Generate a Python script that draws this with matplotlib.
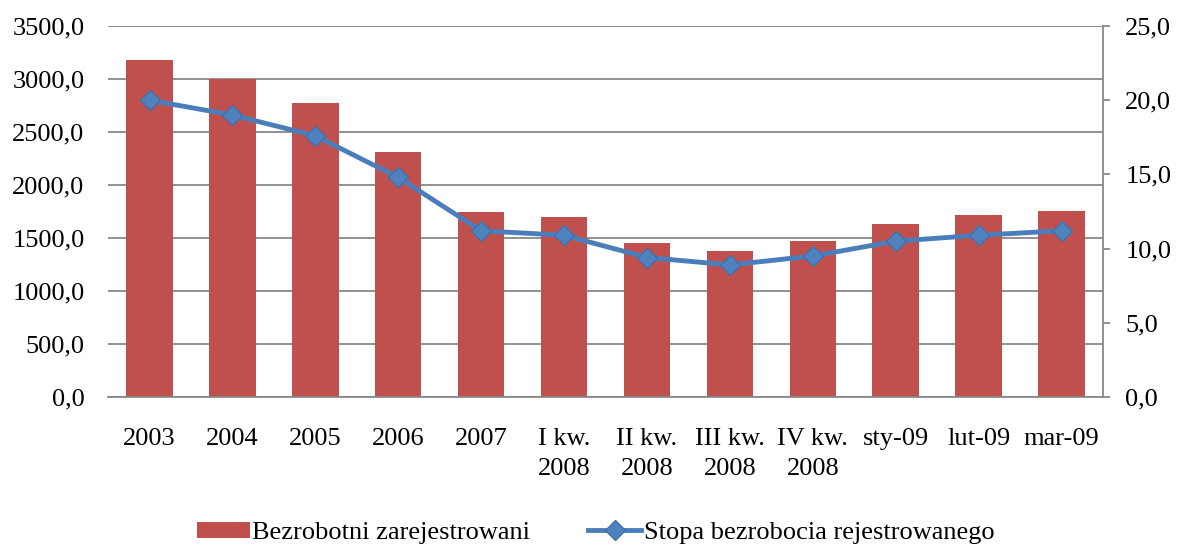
import matplotlib
matplotlib.use("Agg")
import matplotlib.pyplot as plt
import numpy as np

categories = ["2003", "2004", "2005", "2006", "2007", "I kw.\n2008", "II kw.\n2008",
              "III kw.\n2008", "IV kw.\n2008", "sty-09", "lut-09", "mar-09"]
bezrobotni = [3175, 3000, 2770, 2310, 1745, 1700, 1453, 1377, 1475, 1632, 1717, 1758]
stopa = [20.0, 19.0, 17.6, 14.8, 11.2, 10.9, 9.4, 8.9, 9.5, 10.5, 10.9, 11.2]
left_ticks = [0, 500, 1000, 1500, 2000, 2500, 3000, 3500]
right_ticks = [0, 5, 10, 15, 20, 25]

plt.rcParams['font.family'] = ['Liberation Serif', 'DejaVu Serif']
FS = 19
bar_color = "#C0504D"
line_color = "#4A7EBB"
grid_color = "#888888"

fig = plt.figure(figsize=(11.77, 5.47), dpi=100)
ax = fig.add_axes([0.0918, 0.2742, 0.9371 - 0.0918, 0.9525 - 0.2742])
x = np.arange(len(categories))

ax.bar(x, bezrobotni, width=0.56, color=bar_color, zorder=2, label="Bezrobotni zarejestrowani")
ax.set_xlim(-0.5, len(categories) - 0.5)
ax.set_ylim(0, 3500)
ax.set_yticks(left_ticks)
ax.set_yticklabels([f"{v:.1f}".replace(".", ",") for v in left_ticks], fontsize=FS)
ax.yaxis.grid(True, color=grid_color, linewidth=1.3, zorder=0)
ax.set_axisbelow(True)
ax.tick_params(axis='y', length=0, pad=17)
ax.set_xticks(x)
ax.set_xticklabels(categories, fontsize=FS, linespacing=1.5)
ax.tick_params(axis='x', length=0, pad=22)
for s in ["top", "left", "right"]:
    ax.spines[s].set_visible(False)
ax.spines["bottom"].set_color(grid_color)
ax.spines["bottom"].set_linewidth(1.3)

ax2 = ax.twinx()
ax2.plot(x, stopa, color=line_color, linewidth=3.5, marker="D", markersize=10,
         markerfacecolor="#4F81BD", markeredgecolor="#3F71AD", markeredgewidth=1,
         zorder=3, label="Stopa bezrobocia rejestrowanego")
ax2.set_ylim(0, 25)
ax2.set_yticks(right_ticks)
ax2.set_yticklabels([f"{v:.1f}".replace(".", ",") for v in right_ticks], fontsize=FS)
ax2.tick_params(axis='y', length=5, width=1.3, color=grid_color, pad=11)
for s in ["top", "left", "bottom"]:
    ax2.spines[s].set_visible(False)
ax2.spines["right"].set_color(grid_color)
ax2.spines["right"].set_linewidth(1.3)

h1, l1 = ax.get_legend_handles_labels()
h2, l2 = ax2.get_legend_handles_labels()
fig.legend(h1 + h2, l1 + l2, loc="center", bbox_to_anchor=(0.506, 0.026), ncol=2,
           frameon=False, fontsize=FS, handlelength=2.0, handleheight=0.55,
           handletextpad=0.1, columnspacing=2.2, borderaxespad=0, borderpad=0.1)

fig.savefig("out.png", dpi=100)
